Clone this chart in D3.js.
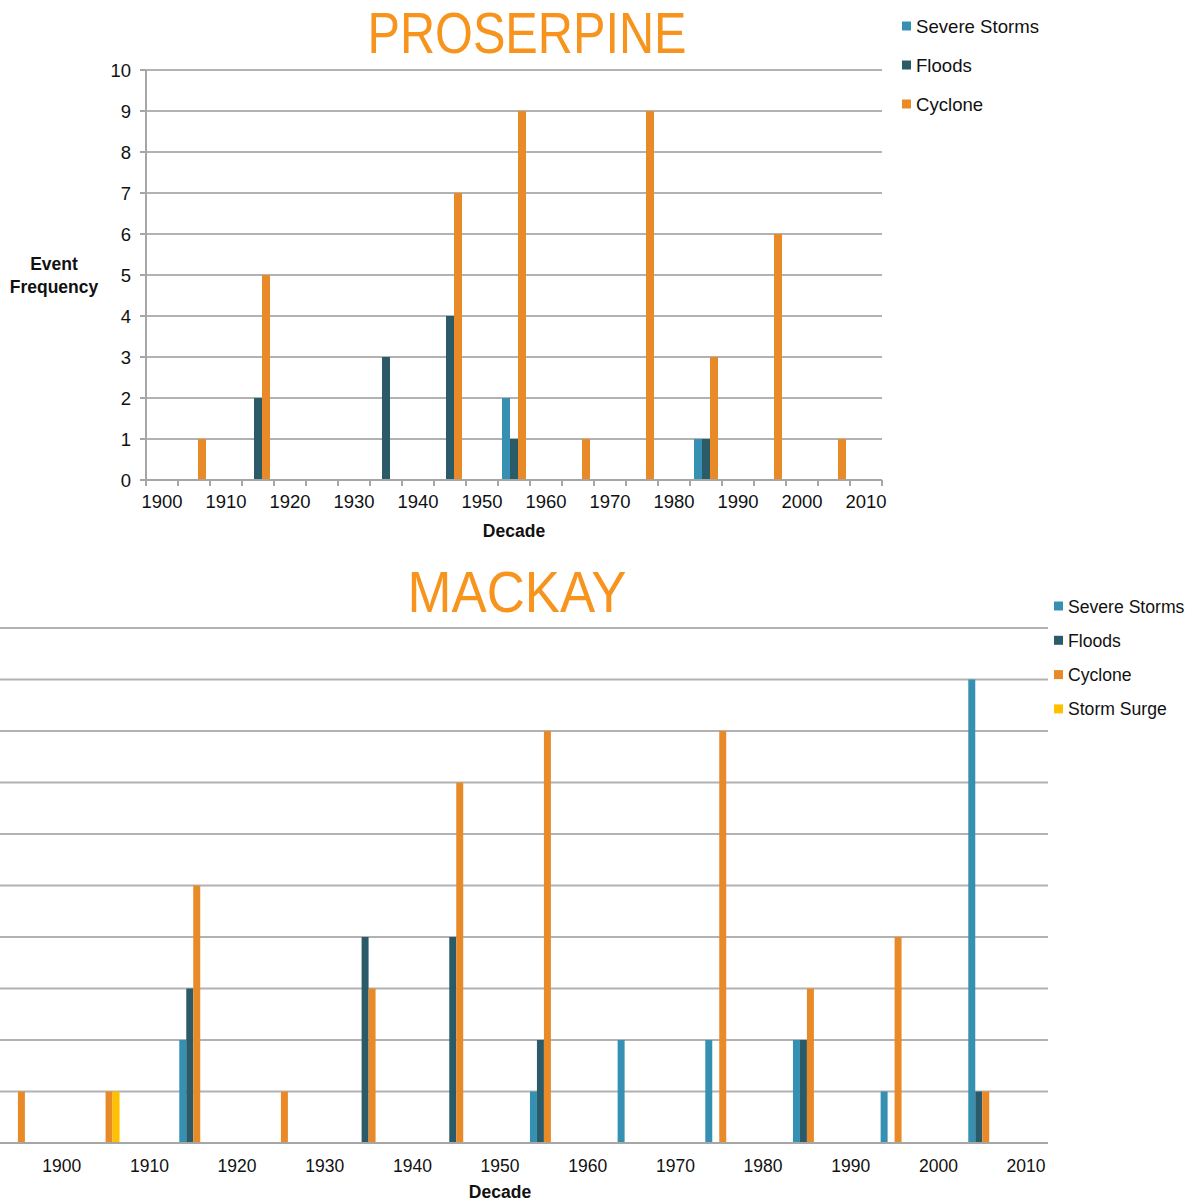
<!DOCTYPE html>
<html><head><meta charset="utf-8">
<script src="https://cdn.jsdelivr.net/npm/d3@7/dist/d3.min.js"></script>
<style>body{margin:0;background:#fff}svg{display:block}</style>
</head><body>
<script>
// ---------- DATA ----------
const seriesTop = ["Severe Storms", "Floods", "Cyclone"];
const seriesBottom = ["Severe Storms", "Floods", "Cyclone", "Storm Surge"];
const colors = {"Severe Storms":"#3590b1","Floods":"#2b5b69","Cyclone":"#e98a28","Storm Surge":"#ffc000"};

const catsTop = [1900,1905,1910,1915,1920,1925,1930,1935,1940,1945,1950,1955,1960,1965,1970,1975,1980,1985,1990,1995,2000,2005,2010];
const topStorms  = [0,0,0,0,0,0,0,0,0,0,0,2,0,0,0,0,0,1,0,0,0,0,0];
const topFloods  = [0,0,0,2,0,0,0,3,0,4,0,1,0,0,0,0,0,1,0,0,0,0,0];
const topCyclone = [0,1,0,5,0,0,0,0,0,7,0,9,0,1,0,9,0,3,0,6,0,1,0];

const catsBottom = [1895,1900,1905,1910,1915,1920,1925,1930,1935,1940,1945,1950,1955,1960,1965,1970,1975,1980,1985,1990,1995,2000,2005,2010];
const botStorms  = [0,0,0,0,2,0,0,0,0,0,0,0,1,0,2,0,2,0,2,0,1,0,9,0];
const botFloods  = [0,0,0,0,3,0,0,0,4,0,4,0,2,0,0,0,0,0,2,0,0,0,1,0];
const botCyclone = [1,0,1,0,5,0,1,0,3,0,7,0,8,0,0,0,8,0,3,0,4,0,1,0];
const botSurge   = [0,0,1,0,0,0,0,0,0,0,0,0,0,0,0,0,0,0,0,0,0,0,0,0];

const yTicks = [0,1,2,3,4,5,6,7,8,9,10];
const xLabelYears = [1900,1910,1920,1930,1940,1950,1960,1970,1980,1990,2000,2010];

// ---------- DRAW ----------
const W = 1199, H = 1201;
const svg = d3.select("body").append("svg").attr("width", W).attr("height", H);
const FONT = "'Liberation Sans', Arial, sans-serif";
const TITLE_FONT = "'Liberation Sans', Arial, sans-serif";
const GRID = "#b2b2b2";

function chart(opt) {
  const g = svg.append("g");
  const x = d3.scaleBand().domain(opt.cats).range([opt.x0, opt.x1]).padding(0);
  const y = d3.scaleLinear().domain([0, 10]).range([opt.y0, opt.y1]);
  const xs = d3.scaleBand().domain(opt.series).range([0, x.bandwidth()])
    .paddingInner(0).paddingOuter(opt.po);

  // gridlines
  g.append("g").selectAll("line").data(yTicks.filter(d => d > 0)).join("line")
    .attr("x1", opt.gridX0).attr("x2", opt.x1)
    .attr("y1", d => y(d)).attr("y2", d => y(d))
    .attr("stroke", GRID).attr("stroke-width", 2);

  // bars
  const table = [];
  opt.series.forEach((s, si) => opt.values[si].forEach((v, i) => {
    if (v > 0) table.push({s, cat: opt.cats[i], v});
  }));
  g.append("g").selectAll("rect").data(table).join("rect")
    .attr("x", d => x(d.cat) + xs(d.s))
    .attr("width", xs.bandwidth())
    .attr("y", d => y(d.v))
    .attr("height", d => y(0) - y(d.v))
    .attr("fill", d => colors[d.s]);

  // baseline
  g.append("line").attr("x1", opt.gridX0).attr("x2", opt.x1)
    .attr("y1", y(0)).attr("y2", y(0)).attr("stroke", "#a6a6a6").attr("stroke-width", 2);

  // x tick labels
  g.append("g").selectAll("text").data(xLabelYears).join("text")
    .attr("x", d => x(d) + x.bandwidth() / 2)
    .attr("y", opt.labelY)
    .attr("text-anchor", "middle")
    .attr("font-family", FONT).attr("font-size", opt.fs)
    .attr("fill", "#111").text(d => d);

  if (opt.yAxis) {
    g.append("line").attr("x1", opt.x0).attr("x2", opt.x0)
      .attr("y1", y(0)).attr("y2", y(10)).attr("stroke", "#a6a6a6").attr("stroke-width", 2);
    g.append("g").selectAll("line").data(yTicks).join("line")
      .attr("x1", opt.x0 - 6).attr("x2", opt.x0)
      .attr("y1", d => y(d)).attr("y2", d => y(d))
      .attr("stroke", "#a6a6a6").attr("stroke-width", 2);
    g.append("g").selectAll("text").data(yTicks).join("text")
      .attr("x", opt.x0 - 15).attr("y", d => y(d) + 6.5)
      .attr("text-anchor", "end")
      .attr("font-family", FONT).attr("font-size", opt.fs)
      .attr("fill", "#111").text(d => d);
    // x ticks at band boundaries
    const bounds = opt.cats.map(c => x(c)).concat([opt.x1]);
    g.append("g").selectAll("line").data(bounds).join("line")
      .attr("x1", d => d).attr("x2", d => d)
      .attr("y1", y(0)).attr("y2", y(0) + 6)
      .attr("stroke", "#a6a6a6").attr("stroke-width", 2);
  }

  // x axis title
  g.append("text").attr("x", opt.xTitleX).attr("y", opt.xTitleY)
    .attr("text-anchor", "middle").attr("font-family", FONT)
    .attr("font-weight", "bold").attr("font-size", 17.5).attr("fill", "#111")
    .text("Decade");

  // title
  g.append("text").attr("x", opt.titleX).attr("y", opt.titleY)
    .attr("text-anchor", "middle").attr("font-family", TITLE_FONT)
    .attr("font-size", 57).attr("fill", "#f7941d")
    .attr("textLength", opt.titleLen).attr("lengthAdjust", "spacingAndGlyphs")
    .text(opt.title);

  // legend
  const lg = g.append("g").selectAll("g").data(opt.series).join("g")
    .attr("transform", (d, i) => `translate(${opt.legX},${opt.legY + i * opt.legStep})`);
  lg.append("rect").attr("x", 0).attr("y", -4.5).attr("width", 9).attr("height", 9)
    .attr("fill", d => colors[d]);
  lg.append("text").attr("x", 14).attr("y", 6.5)
    .attr("font-family", FONT).attr("font-size", opt.legFs).attr("fill", "#111")
    .text(d => d);
}

chart({
  cats: catsTop, series: seriesTop, values: [topStorms, topFloods, topCyclone],
  x0: 146, x1: 882, y0: 480, y1: 70, gridX0: 146, po: 0.5,
  labelY: 508, fs: 18.5, yAxis: true,
  xTitleX: 514, xTitleY: 537,
  title: "PROSERPINE", titleX: 527, titleY: 53, titleLen: 319,
  legX: 902, legY: 26, legStep: 39, legFs: 18.6
});

chart({
  cats: catsBottom, series: seriesBottom, values: [botStorms, botFloods, botCyclone, botSurge],
  x0: -4, x1: 1048, y0: 1143, y1: 628, gridX0: -4, po: 1.14,
  labelY: 1172, fs: 17.5, yAxis: false,
  xTitleX: 500, xTitleY: 1198,
  title: "MACKAY", titleX: 517, titleY: 612, titleLen: 219,
  legX: 1054, legY: 606, legStep: 34.3, legFs: 17.6
});

// y-axis title top chart
const yt = svg.append("text").attr("text-anchor", "middle")
  .attr("font-family", FONT).attr("font-weight", "bold").attr("font-size", 17.5).attr("fill", "#111");
yt.append("tspan").attr("x", 54).attr("y", 270).text("Event");
yt.append("tspan").attr("x", 54).attr("y", 293).text("Frequency");
</script>
</body></html>
